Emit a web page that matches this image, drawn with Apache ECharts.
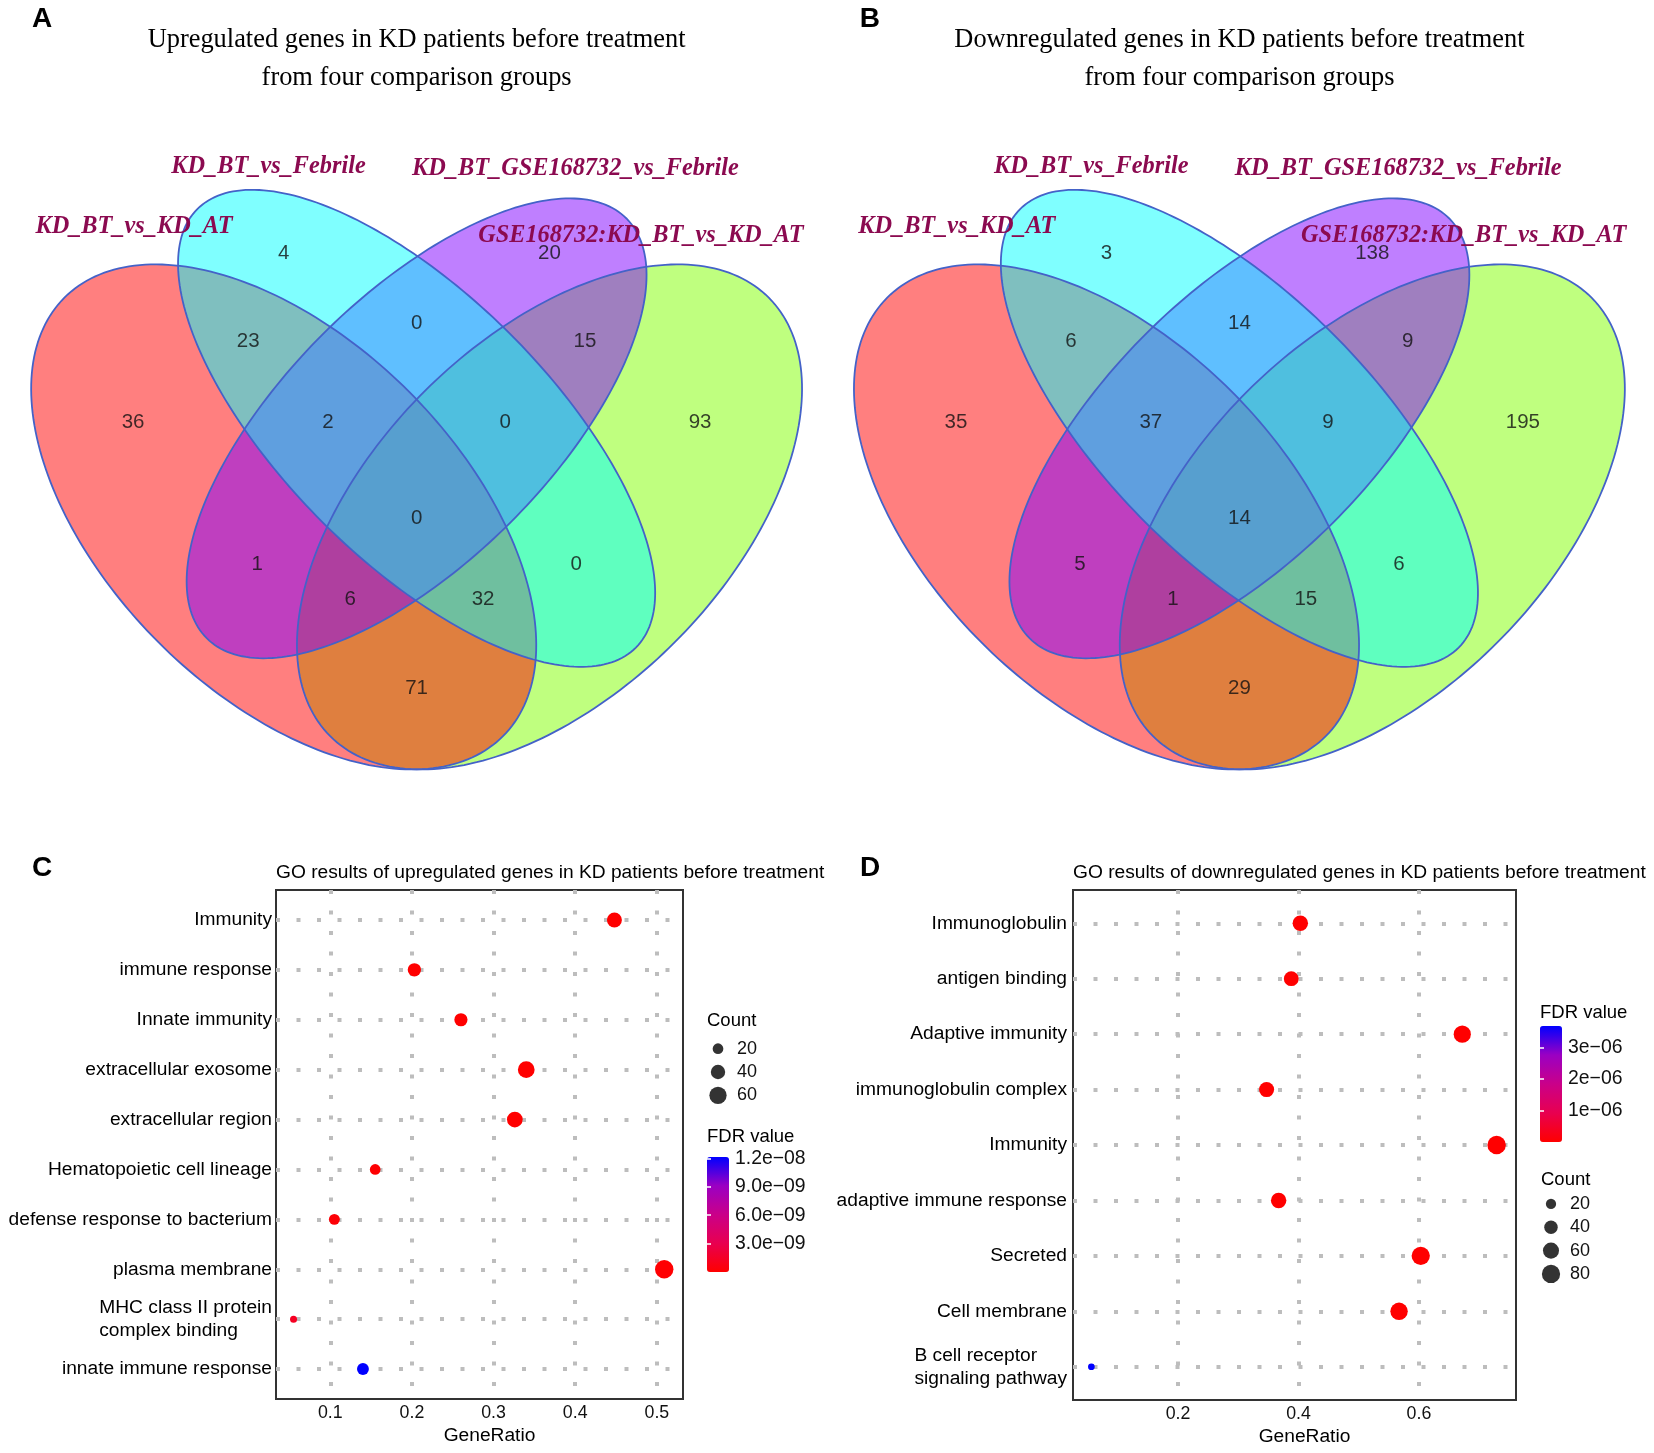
<!DOCTYPE html>
<html><head><meta charset="utf-8">
<script src="https://cdn.jsdelivr.net/npm/echarts@6/dist/echarts.min.js"></script>
<style>html,body{margin:0;padding:0;background:#fff}#c{width:1654px;height:1453px}</style>
</head><body><div id="c"></div><script>
// ---------------- DATA ----------------
const vennSets = ['KD_BT_vs_KD_AT','KD_BT_vs_Febrile','KD_BT_GSE168732_vs_Febrile','GSE168732:KD_BT_vs_KD_AT'];
// regions: R=KD_BT_vs_KD_AT, C=KD_BT_vs_Febrile, P=KD_BT_GSE168732_vs_Febrile, G=GSE168732:KD_BT_vs_KD_AT
const vennRegions = ['R','C','P','G','RC','CP','PG','RCP','CPG','RCPG','RP','RPG','RCG','CG','RG'];
const vennUpCounts   = [36,4,20,93,23,0,15,2,0,0,1,6,32,0,71];
const vennDownCounts = [35,3,138,195,6,14,9,37,9,14,5,1,15,6,29];
const vennUpTitle = ['Upregulated genes in KD patients before treatment','from four comparison groups'];
const vennDownTitle = ['Downregulated genes in KD patients before treatment','from four comparison groups'];

const goUpTitle = 'GO results of upregulated genes in KD patients before treatment';
const goUpTerms = ['Immunity','immune response','Innate immunity','extracellular exosome','extracellular region','Hematopoietic cell lineage','defense response to bacterium','plasma membrane','MHC class II protein\ncomplex binding','innate immune response'];
const goUpRatio = [0.448,0.203,0.260,0.340,0.326,0.155,0.105,0.509,0.055,0.140];
const goUpCount = [44,34,33,56,49,20,21,69,6,26];
const goUpFDR   = [2.1e-18,3.4e-12,5.6e-14,1.2e-11,4.5e-12,8.7e-11,2.3e-10,6.1e-11,1.3e-9,1.215e-8];
const xTicksUp = [0.1,0.2,0.3,0.4,0.5];
const countBreaksUp = [20,40,60];
const fdrTicksUp = [3e-9,6e-9,9e-9,1.2e-8];

const goDownTitle = 'GO results of downregulated genes in KD patients before treatment';
const goDownTerms = ['Immunoglobulin','antigen binding','Adaptive immunity','immunoglobulin complex','Immunity','adaptive immune response','Secreted','Cell membrane','B cell receptor\nsignaling pathway'];
const goDownRatio = [0.403,0.388,0.672,0.347,0.729,0.367,0.603,0.567,0.056];
const goDownCount = [55,50,70,52,82,55,80,72,4];
const goDownFDR   = [3.2e-40,1.5e-30,2.7e-45,4.8e-28,1.1e-48,6.3e-25,2.2e-20,5.4e-15,3.69e-6];
const xTicksDown = [0.2,0.4,0.6];
const countBreaksDown = [20,40,60,80];
const fdrTicksDown = [1e-6,2e-6,3e-6];

// ---------------- LAYOUT ----------------
const SANS = 'Liberation Sans', SERIF = 'Liberation Serif';
const FS = 19.2;
// standard 4-set Venn ellipse layout (unit square), draw order G, R, P, C
const ellipseGeom = [
  {cx:0.65, cy:0.47, a:0.35,  b:0.20, rot:45,  fill:'rgba(128,255,0,0.5)'},
  {cx:0.35, cy:0.47, a:0.35,  b:0.20, rot:135, fill:'rgba(255,0,0,0.5)'},
  {cx:0.50, cy:0.57, a:0.335, b:0.15, rot:45,  fill:'rgba(128,0,255,0.5)'},
  {cx:0.50, cy:0.57, a:0.35,  b:0.15, rot:135, fill:'rgba(0,255,255,0.5)'}
];
const vennLabelPos = {R:[0.18,0.577],C:[0.35,0.767],P:[0.65,0.767],G:[0.82,0.577],RC:[0.31,0.668],CP:[0.5,0.688],
  PG:[0.69,0.668],RCP:[0.40,0.577],CPG:[0.60,0.577],RCPG:[0.5,0.468],RP:[0.32,0.417],RPG:[0.425,0.377],
  RCG:[0.575,0.377],CG:[0.68,0.417],RG:[0.5,0.277]};
const setLabelPos = [[134,227],[268.5,167],[575.4,169],[640.8,236]];
const panelBOffset = 822.8;
const ggGrad = ['#ff0000','#e80050','#ca0089','#9a00c3','#0000ff'];
const gridDots = {color:'#bdbdbd', width:4, type:[4,16.5]};

function sizeUp(v){return Math.sqrt(22+4.6*v);}
function sizeDown(v){return Math.sqrt(30+3.8*v);}
function sci(v,d){const s=v.toExponential(d).split('e');const e=+s[1];return s[0]+'e'+(e<0?'\u2212':'+')+String(Math.abs(e)).padStart(2,'0');}
function catFmt(t){return t.indexOf('\n')>=0?'{ml|'+t+'}':t;}

function ellipsePts(g, api){
  const pts=[], t=g.rot*Math.PI/180;
  for(let i=0;i<240;i++){const th=i/240*2*Math.PI, x=g.a*Math.cos(th), y=g.b*Math.sin(th);
    pts.push(api.coord([g.cx+x*Math.cos(t)-y*Math.sin(t), g.cy+x*Math.sin(t)+y*Math.cos(t)]));}
  return pts;
}
function vennSeries(gi, counts){
  return [
    {type:'custom', coordinateSystem:'cartesian2d', xAxisIndex:gi, yAxisIndex:gi, silent:true,
     data: ellipseGeom.map(g=>[g.cx,g.cy]),
     renderItem:(p,api)=>({type:'polygon', shape:{points:ellipsePts(ellipseGeom[p.dataIndex],api)}, style:{fill:ellipseGeom[p.dataIndex].fill, stroke:null}})},
    {type:'custom', coordinateSystem:'cartesian2d', xAxisIndex:gi, yAxisIndex:gi, silent:true, z:3,
     data: ellipseGeom.map(g=>[g.cx,g.cy]),
     renderItem:(p,api)=>({type:'polygon', shape:{points:ellipsePts(ellipseGeom[p.dataIndex],api)}, style:{fill:'none', stroke:'#4462c8', lineWidth:1.8}})},
    {type:'scatter', xAxisIndex:gi, yAxisIndex:gi, silent:true, z:4, symbolSize:1, itemStyle:{color:'rgba(0,0,0,0)'},
     data: vennRegions.map((r,i)=>[vennLabelPos[r][0], vennLabelPos[r][1], counts[i]]),
     label:{show:true, position:'inside', formatter:p=>String(p.value[2]), color:'#111', fontSize:20.5, fontFamily:SANS}}
  ];
}

function txt(x,y,text,o){return {type:'text', x:x, y:y, silent:true, z:100,
  style:Object.assign({text:text, fill:'#000', fontFamily:SANS, fontSize:18.5, align:'left', verticalAlign:'middle'}, o||{})};}

const graphics = [
  txt(42,19,'A',{fontSize:28,fontWeight:'bold',align:'center'}),
  txt(42+panelBOffset+5,19,'B',{fontSize:28,fontWeight:'bold',align:'center'}),
  txt(42,868,'C',{fontSize:28,fontWeight:'bold',align:'center'}),
  txt(870,868,'D',{fontSize:28,fontWeight:'bold',align:'center'}),
  txt(416.6,40,vennUpTitle[0],{fontFamily:SERIF,fontSize:26.4,align:'center'}),
  txt(416.6,78,vennUpTitle[1],{fontFamily:SERIF,fontSize:26.4,align:'center'}),
  txt(416.6+panelBOffset,40,vennDownTitle[0],{fontFamily:SERIF,fontSize:26.4,align:'center'}),
  txt(416.6+panelBOffset,78,vennDownTitle[1],{fontFamily:SERIF,fontSize:26.4,align:'center'}),
  txt(276,873,goUpTitle,{fontSize:FS}),
  txt(1073,873,goDownTitle,{fontSize:FS}),
  txt(707,1021,'Count'),
  txt(707,1137,'FDR value'),
  txt(1540,1013,'FDR value'),
  txt(1541,1180,'Count')
];
vennSets.forEach((s,i)=>{
  const o={fontFamily:SERIF,fontSize:24.3,fontWeight:'bold',fontStyle:'italic',fill:'#8B0A50',align:'center'};
  graphics.push(txt(setLabelPos[i][0],setLabelPos[i][1],s,o));
  graphics.push(txt(setLabelPos[i][0]+panelBOffset,setLabelPos[i][1],s,o));
});

const idx = (arr)=>arr.map((_,i)=>i);
const fdrMinUp=Math.min(...goUpFDR), fdrMaxUp=Math.max(...goUpFDR);
const fdrMinDown=Math.min(...goDownFDR), fdrMaxDown=Math.max(...goDownFDR);

function dotX(gi,min,max,ticks,dec){return {type:'value', gridIndex:gi, min:min, max:max,
  axisLine:{show:false}, axisTick:{show:false, customValues:ticks},
  axisLabel:{customValues:ticks, formatter:v=>v.toFixed(dec), fontSize:17.8, color:'#111', margin:5, fontFamily:SANS},
  splitLine:{show:true, lineStyle:gridDots},
  name:'GeneRatio', nameLocation:'middle', nameGap:27, nameTextStyle:{fontSize:FS, color:'#000', fontFamily:SANS, padding:[0,0,0,20]}};}
function dotY(gi,terms,margin){const t=idx(terms);return {type:'value', gridIndex:gi, inverse:true, min:-0.6, max:terms.length-1+0.6,
  axisLine:{show:false}, axisTick:{show:false, customValues:t},
  axisLabel:{customValues:t, formatter:v=>catFmt(terms[Math.round(v)]), fontSize:FS, color:'#000', margin:margin, fontFamily:SANS, lineHeight:23,
    rich:{ml:{align:'left', fontSize:FS, lineHeight:23, fontFamily:SANS, color:'#000'}}},
  splitLine:{show:true, lineStyle:gridDots}};}
function cbarAxes(gi,min,max,ticks,dec){return [
  {type:'value', gridIndex:gi, min:min, max:max, position:'right', z:10, axisLine:{show:false},
   axisTick:{show:true, inside:true, length:4, customValues:ticks, lineStyle:{color:'#fff', width:1.5}},
   axisLabel:{customValues:ticks, formatter:v=>sci(v,dec), margin:6, fontSize:19.4, color:'#111', fontFamily:SANS}, splitLine:{show:false}},
  {type:'value', gridIndex:gi, min:min, max:max, position:'left', z:10, axisLine:{show:false},
   axisTick:{show:true, inside:true, length:4, customValues:ticks, lineStyle:{color:'#fff', width:1.5}},
   axisLabel:{show:false}, splitLine:{show:false}}];}
function cntY(gi,breaks){const t=idx(breaks);return {type:'value', gridIndex:gi, inverse:true, min:-0.5, max:breaks.length-0.5, position:'right',
  axisLine:{show:false}, axisTick:{show:false, customValues:t},
  axisLabel:{customValues:t, formatter:v=>String(breaks[Math.round(v)]), margin:9, fontSize:18, color:'#111', fontFamily:SANS}, splitLine:{show:false}};}
const hidX = (gi,min,max)=>({type:'value', gridIndex:gi, min:min, max:max, show:false});

const G = (o)=>Object.assign({show:false, containLabel:false, outerBoundsMode:'none'}, o);
const option = {
  animation:false,
  backgroundColor:'#fff',
  textStyle:{fontFamily:SANS},
  grid:[
    G({left:17.9, top:153.7, width:797.4, height:655.6}),
    G({left:17.9+panelBOffset, top:153.7, width:797.4, height:655.6}),
    G({left:276, top:890, width:407, height:509, show:true, borderColor:'#333', borderWidth:2, backgroundColor:'rgba(0,0,0,0)'}),
    G({left:1073, top:890, width:443, height:510, show:true, borderColor:'#333', borderWidth:2, backgroundColor:'rgba(0,0,0,0)'}),
    G({left:707, top:1157, width:22, height:115}),
    G({left:1540, top:1026, width:22, height:116}),
    G({left:708, top:1037, width:20, height:70}),
    G({left:1541, top:1192.3, width:20, height:93.3})
  ],
  xAxis:[ hidX(0,0.05,0.95), hidX(1,0.05,0.95),
    dotX(2,0.0335,0.532,xTicksUp,1), dotX(3,0.0255,0.7612,xTicksDown,1),
    hidX(4,0,1), hidX(5,0,1), hidX(6,-1,1), hidX(7,-1,1)],
  yAxis:[ {type:'value',gridIndex:0,min:0.14,max:0.88,show:false}, {type:'value',gridIndex:1,min:0.14,max:0.88,show:false},
    dotY(2,goUpTerms,4), dotY(3,goDownTerms,6),
    ...cbarAxes(4,fdrMinUp,fdrMaxUp,fdrTicksUp,1), ...cbarAxes(5,fdrMinDown,fdrMaxDown,fdrTicksDown,0),
    cntY(6,countBreaksUp), cntY(7,countBreaksDown)],
  visualMap:[
    {type:'continuous', seriesIndex:6, dimension:3, min:fdrMinUp, max:fdrMaxUp, inRange:{color:ggGrad},
     left:707, top:1157, itemWidth:22, itemHeight:115, padding:0, calculable:false, hoverLink:false},
    {type:'continuous', seriesIndex:7, dimension:3, min:fdrMinDown, max:fdrMaxDown, inRange:{color:ggGrad},
     left:1540, top:1026, itemWidth:22, itemHeight:116, padding:0, calculable:false, hoverLink:false}
  ],
  graphic:{elements:graphics},
  series:[
    ...vennSeries(0, vennUpCounts),
    ...vennSeries(1, vennDownCounts),
    {type:'scatter', xAxisIndex:2, yAxisIndex:2, z:5, symbolSize:p=>sizeUp(p[2]),
     data: goUpTerms.map((t,i)=>[goUpRatio[i], i, goUpCount[i], goUpFDR[i]]), itemStyle:{opacity:1}},
    {type:'scatter', xAxisIndex:3, yAxisIndex:3, z:5, symbolSize:p=>sizeDown(p[2]),
     data: goDownTerms.map((t,i)=>[goDownRatio[i], i, goDownCount[i], goDownFDR[i]]), itemStyle:{opacity:1}},
    {type:'scatter', xAxisIndex:6, yAxisIndex:8, symbolSize:p=>sizeUp(p[2]), itemStyle:{color:'#000'},
     data: countBreaksUp.map((v,i)=>[0,i,v])},
    {type:'scatter', xAxisIndex:7, yAxisIndex:9, symbolSize:p=>sizeDown(p[2]), itemStyle:{color:'#000'},
     data: countBreaksDown.map((v,i)=>[0,i,v])}
  ]
};
const chart = echarts.init(document.getElementById('c'), null, {renderer:'canvas'});
chart.setOption(option);
</script></body></html>
